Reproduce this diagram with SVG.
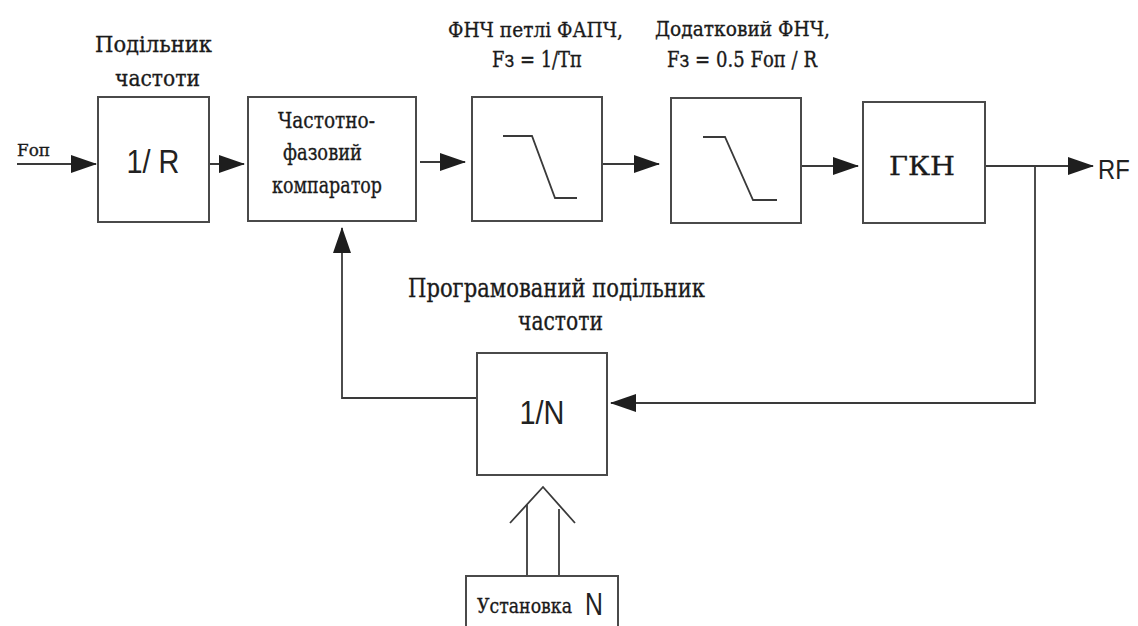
<svg xmlns="http://www.w3.org/2000/svg" width="1138" height="626" viewBox="0 0 1138 626">
<defs>
<style>
.box{fill:#fff;stroke:#4a4a4a;stroke-width:2}
.ln{fill:none;stroke:#3a3a3a;stroke-width:1.8}
.tr{font-family:'DejaVu Serif','Liberation Serif',serif;fill:#1a1a1a;stroke:#1a1a1a;stroke-width:0.35}
.ss{font-family:'Liberation Sans',Arial,sans-serif;fill:#222}
</style>
<marker id="ah" markerWidth="26" markerHeight="18" refX="25" refY="9" orient="auto" markerUnits="userSpaceOnUse">
<path d="M0,0 L26,9 L0,18 Z" fill="#1e1e1e"/>
</marker>
</defs>
<rect width="1138" height="626" fill="#fff"/>

<g id="connectors">
<line class="ln" x1="17" y1="164" x2="96" y2="164" marker-end="url(#ah)"/>
<line class="ln" x1="210" y1="164" x2="244" y2="164" marker-end="url(#ah)"/>
<line class="ln" x1="420" y1="162" x2="465" y2="162" marker-end="url(#ah)"/>
<line class="ln" x1="603" y1="164" x2="659" y2="164" marker-end="url(#ah)"/>
<line class="ln" x1="802" y1="166" x2="858" y2="166" marker-end="url(#ah)"/>
<line class="ln" x1="986" y1="166" x2="1093" y2="166" marker-end="url(#ah)"/>
<polyline class="ln" points="1035,166 1035,403 611,403" marker-end="url(#ah)"/>
<polyline class="ln" points="477,398 342,398 342,228" marker-end="url(#ah)"/>
<g id="setN-arrow">
<polyline class="ln" points="527,577 527,505"/>
<polyline class="ln" points="559,577 559,509"/>
<polyline class="ln" points="510,523 543,487 575,523"/>
</g>
</g>

<g id="div-r">
<rect class="box" x="98" y="97" width="111" height="125"/>
<text class="ss" x="153" y="173" font-size="34" text-anchor="middle" transform="translate(153 0) scale(0.85 1) translate(-153 0)">1/ R</text>
<text class="tr" x="95" y="52" font-size="23" textLength="117" lengthAdjust="spacingAndGlyphs">Подільник</text>
<text class="tr" x="115" y="86" font-size="23" textLength="85" lengthAdjust="spacingAndGlyphs">частоти</text>
</g>

<g id="fop-label">
<text class="tr" x="17" y="156" font-size="16" textLength="33" lengthAdjust="spacingAndGlyphs">Fоп</text>
</g>

<g id="comparator">
<rect class="box" x="248" y="97" width="168" height="124"/>
<text class="tr" x="278" y="128" font-size="22" textLength="97" lengthAdjust="spacingAndGlyphs">Частотно-</text>
<text class="tr" x="283" y="160" font-size="22" textLength="79" lengthAdjust="spacingAndGlyphs">фазовий</text>
<text class="tr" x="272" y="193" font-size="22" textLength="110" lengthAdjust="spacingAndGlyphs">компаратор</text>
</g>

<g id="lpf1">
<rect class="box" x="472" y="97" width="130" height="124"/>
<polyline class="ln" points="503,136 532,136 555,198 577,198"/>
<text class="tr" x="448" y="37" font-size="21" textLength="175" lengthAdjust="spacingAndGlyphs">ФНЧ петлі ФАПЧ,</text>
<text class="tr" x="492" y="67" font-size="22" textLength="90" lengthAdjust="spacingAndGlyphs">Fз = 1/Tп</text>
</g>

<g id="lpf2">
<rect class="box" x="671" y="98" width="130" height="125"/>
<polyline class="ln" points="703,137 725,137 753,200 777,200"/>
<text class="tr" x="655" y="36" font-size="21" textLength="175" lengthAdjust="spacingAndGlyphs">Додатковий ФНЧ,</text>
<text class="tr" x="667" y="67" font-size="22" textLength="150" lengthAdjust="spacingAndGlyphs">Fз = 0.5 Fоп / R</text>
</g>

<g id="vco">
<rect class="box" x="863" y="102" width="122" height="121"/>
<text class="tr" x="889" y="175" font-size="26" textLength="66" lengthAdjust="spacingAndGlyphs">ГКН</text>
</g>

<g id="rf-label">
<text class="ss" x="1098" y="179" font-size="28" transform="translate(1098 0) scale(0.85 1) translate(-1098 0)">RF</text>
</g>

<g id="div-n">
<rect class="box" x="477" y="353" width="130" height="122"/>
<text class="ss" x="542" y="424" font-size="34" text-anchor="middle" transform="translate(542 0) scale(0.85 1) translate(-542 0)">1/N</text>
<text class="tr" x="408" y="297" font-size="26" textLength="297" lengthAdjust="spacingAndGlyphs">Програмований подільник</text>
<text class="tr" x="518" y="330" font-size="26" textLength="85" lengthAdjust="spacingAndGlyphs">частоти</text>
</g>

<g id="set-n">
<rect class="box" x="466" y="576" width="152" height="60"/>
<text class="tr" x="477" y="613" font-size="21" textLength="95" lengthAdjust="spacingAndGlyphs">Установка</text>
<text class="ss" x="585" y="615" font-size="31" transform="translate(585 0) scale(0.8 1) translate(-585 0)">N</text>
</g>
</svg>
